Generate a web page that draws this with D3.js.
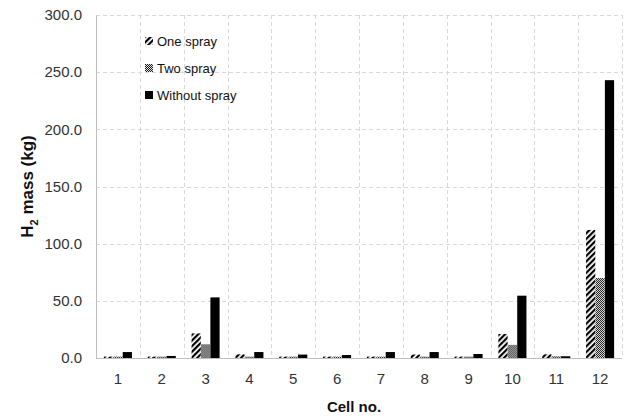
<!DOCTYPE html>
<html>
<head>
<meta charset="utf-8">
<script src="https://cdn.jsdelivr.net/npm/d3@7"></script>
<style>
  html, body { margin: 0; padding: 0; background: #fff; }
  svg { display: block; font-family: "Liberation Sans", Arial, sans-serif; }
</style>
</head>
<body>
<svg id="chart" width="626" height="418"></svg>
<script>
// H2 mass per cell for each spray configuration (kg)
const cells = ["1", "2", "3", "4", "5", "6", "7", "8", "9", "10", "11", "12"];
const seriesNames = ["One spray", "Two spray", "Without spray"];
const oneSpray     = [1.2, 1.2, 21.5, 3.2, 1.2, 1.2, 1.2, 3.0, 1.2, 21.0, 3.2, 112];
const twoSpray     = [1.2, 1.2, 12.0, 1.2, 1.2, 1.2, 1.2, 1.2, 1.2, 11.5, 1.5, 70];
const withoutSpray = [5.2, 1.8, 53.0, 5.2, 3.0, 2.6, 5.2, 5.2, 3.5, 54.5, 1.5, 243];
const yTicks = [0, 50, 100, 150, 200, 250, 300];

const series = [oneSpray, twoSpray, withoutSpray];
const fills = ["url(#hatch)", "url(#checker)", "#000"];

const svg = d3.select("#chart");
const margin = { left: 96, right: 4, top: 15, bottom: 60 };
const W = 626, H = 418;
const x0 = margin.left, x1 = W - margin.right;
const y0 = H - margin.bottom, y1 = margin.top;

// Fill patterns
const defs = svg.append("defs");
const hatch = defs.append("pattern")
  .attr("id", "hatch").attr("patternUnits", "userSpaceOnUse")
  .attr("width", 4).attr("height", 4)
  .attr("patternTransform", "rotate(45)");
hatch.append("rect").attr("width", 4).attr("height", 4).attr("fill", "#fff");
hatch.append("rect").attr("width", 2.2).attr("height", 4).attr("fill", "#000");

const checker = defs.append("pattern")
  .attr("id", "checker").attr("patternUnits", "userSpaceOnUse")
  .attr("width", 2).attr("height", 2);
checker.append("rect").attr("width", 2).attr("height", 2).attr("fill", "#e0e0e0");
checker.append("rect").attr("width", 1).attr("height", 1).attr("fill", "#1a1a1a");
checker.append("rect").attr("x", 1).attr("y", 1).attr("width", 1).attr("height", 1).attr("fill", "#1a1a1a");

// Scales
const x = d3.scaleBand().domain(cells).range([x0, x1]).paddingInner(0.36).paddingOuter(0.18);
const xs = d3.scaleBand().domain(d3.range(series.length)).range([0, x.bandwidth()]).paddingInner(0.02);
const y = d3.scaleLinear().domain([0, 300]).range([y0, y1]);
const step = (x1 - x0) / cells.length;

// Gridlines
const grid = svg.append("g").attr("stroke", "#d9d9d9").attr("stroke-width", 1)
  .attr("stroke-dasharray", "4,3").attr("fill", "none");
grid.selectAll("line.h").data(yTicks.filter(d => d > 0)).join("line")
  .attr("x1", x0).attr("x2", x1)
  .attr("y1", d => Math.round(y(d)) + 0.5).attr("y2", d => Math.round(y(d)) + 0.5);
grid.selectAll("line.v").data(d3.range(1, cells.length + 1)).join("line")
  .attr("x1", i => Math.round(x0 + i * step) + 0.5).attr("x2", i => Math.round(x0 + i * step) + 0.5)
  .attr("y1", y1).attr("y2", y0);

// Bars
const groups = svg.append("g").selectAll("g").data(cells).join("g")
  .attr("transform", d => `translate(${x(d)},0)`);
groups.selectAll("rect").data((d, i) => series.map((s, k) => ({ k, v: s[i] }))).join("rect")
  .attr("x", d => xs(d.k))
  .attr("width", xs.bandwidth())
  .attr("y", d => y(d.v))
  .attr("height", d => y(0) - y(d.v))
  .attr("fill", d => fills[d.k]);

// Axes
const yAxis = svg.append("g").attr("transform", `translate(${x0},0)`)
  .call(d3.axisLeft(y).tickValues(yTicks).tickFormat(d3.format(".1f")).tickSize(0).tickPadding(14));
yAxis.select(".domain").attr("stroke", "#bfbfbf");
yAxis.selectAll("text").attr("font-size", 15).attr("fill", "#333")
  .attr("font-family", "Liberation Sans, Arial, sans-serif");

const xAxis = svg.append("g").attr("transform", `translate(0,${y0})`)
  .call(d3.axisBottom(x).tickSize(0).tickPadding(15));
xAxis.select(".domain").attr("stroke", "#bfbfbf").attr("d", `M${x0},0.5H${x1}`);
xAxis.selectAll("text").attr("font-size", 15).attr("fill", "#333")
  .attr("font-family", "Liberation Sans, Arial, sans-serif");

// Axis titles
svg.append("text").attr("x", (x0 + x1) / 2 - 5).attr("y", 412)
  .attr("text-anchor", "middle").attr("font-size", 15).attr("font-weight", "bold").attr("fill", "#111")
  .text("Cell no.");

const yt = svg.append("text").attr("transform", `translate(33,${(y0 + y1) / 2}) rotate(-90)`)
  .attr("text-anchor", "middle").attr("font-size", 17).attr("font-weight", "bold").attr("fill", "#111");
yt.append("tspan").text("H");
yt.append("tspan").attr("font-size", 11).attr("dy", 5).text("2");
yt.append("tspan").attr("dy", -5).text(" mass (kg)");

// Legend
const legend = svg.append("g").attr("transform", "translate(145,41)");
const li = legend.selectAll("g").data(seriesNames).join("g")
  .attr("transform", (d, i) => `translate(0,${i * 27})`);
li.append("rect").attr("x", 0).attr("y", -4).attr("width", 8).attr("height", 8)
  .attr("fill", (d, i) => fills[i]);
li.append("text").attr("x", 12).attr("y", 0).attr("dy", "0.35em")
  .attr("font-size", 13).attr("fill", "#111").text(d => d);
</script>
</body>
</html>
